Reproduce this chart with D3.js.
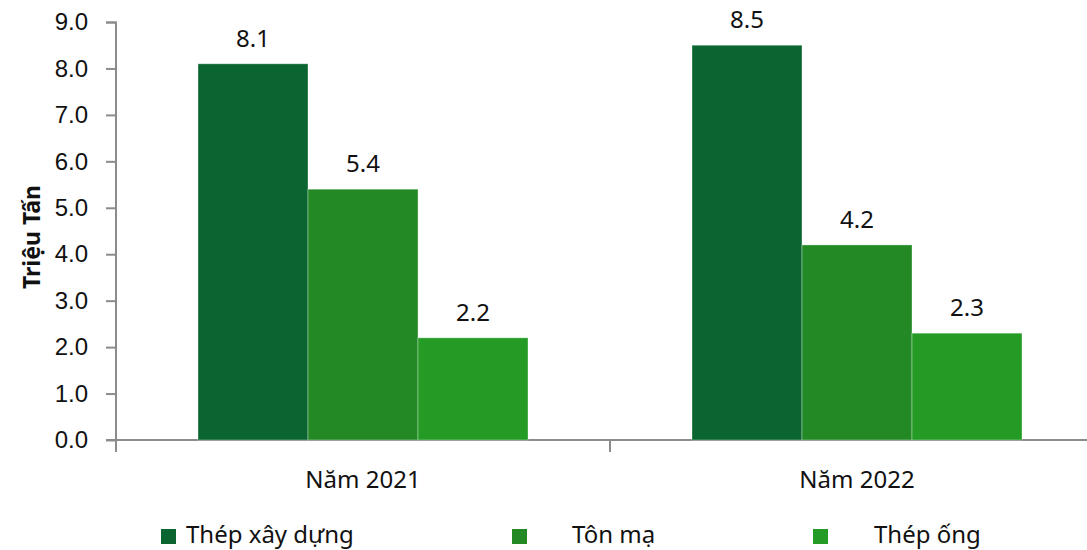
<!DOCTYPE html>
<html>
<head>
<meta charset="utf-8">
<script src="https://cdn.jsdelivr.net/npm/d3@7"></script>
<style>
body { margin: 0; background: #fff; overflow: hidden; }
svg { font-family: "Noto Sans", "Open Sans", sans-serif; display: block; }
</style>
</head>
<body>
<svg width="1087" height="550"></svg>
<script>
const years = ["Năm 2021", "Năm 2022"]
const series = ["Thép xây dựng", "Tôn mạ", "Thép ống"]
const thepXayDung = [8.1, 8.5]
const tonMa = [5.4, 4.2]
const thepOng = [2.2, 2.3]
const yTicks = [0, 1, 2, 3, 4, 5, 6, 7, 8, 9]
const colores = ["#0a6530", "#228925", "#249b24"]

const svg = d3.select("svg")
const values = [thepXayDung, tonMa, thepOng]
const data = years.map((y, i) => ({ year: y, vals: series.map((s, j) => ({ s, v: values[j][i] })) }))

const x0 = d3.scaleBand().domain(years).range([116, 1104])
const x1 = d3.scaleBand().domain(series).range([0, 330])
const yScale = d3.scaleLinear().domain([0, 9]).range([440, 22])
const color = d3.scaleOrdinal().domain(series).range(colores)

// y axis
const yAxis = d3.axisLeft(yScale).tickValues(yTicks).tickFormat(d3.format(".1f")).tickSize(10).tickPadding(18)
const yG = svg.append("g").attr("transform", "translate(116,0)").call(yAxis)
yG.selectAll("line, path").attr("stroke", "#8c8c8c").attr("stroke-width", 2)
yG.select(".domain").attr("d", "M-10,22.5H0V440")
yG.selectAll("text").style("font-size", "24px").attr("fill", "#111")

// x axis
const xG = svg.append("g").attr("transform", "translate(0,440)")
xG.append("line").attr("x1", 106).attr("x2", 1104).attr("stroke", "#8c8c8c").attr("stroke-width", 2)
xG.selectAll(".tk").data([116, 610, 1104]).enter().append("line")
	.attr("x1", d => d).attr("x2", d => d).attr("y1", 0).attr("y2", 12)
	.attr("stroke", "#8c8c8c").attr("stroke-width", 2)
xG.selectAll(".cat").data(years).enter().append("text")
	.attr("x", d => x0(d) + x0.bandwidth() / 2).attr("y", 48)
	.attr("text-anchor", "middle").style("font-size", "24px").attr("fill", "#111")
	.text(d => d)

// bars
const groups = svg.selectAll(".grp").data(data).enter().append("g")
	.attr("transform", d => `translate(${x0(d.year) + (x0.bandwidth() - 330) / 2},0)`)
groups.selectAll("rect").data(d => d.vals).enter().append("rect")
	.attr("x", d => x1(d.s))
	.attr("y", d => yScale(d.v))
	.attr("width", x1.bandwidth())
	.attr("height", d => 440 - yScale(d.v))
	.attr("fill", d => color(d.s))
	.attr("stroke", "rgba(255,255,255,0.35)")
	.attr("stroke-width", 1)
groups.selectAll(".lbl").data(d => d.vals).enter().append("text")
	.attr("x", d => x1(d.s) + x1.bandwidth() / 2)
	.attr("y", d => yScale(d.v) - 17)
	.attr("text-anchor", "middle").style("font-size", "24px").attr("fill", "#111")
	.text(d => d.v.toFixed(1))

// y title
svg.append("text")
	.attr("transform", "translate(40,237) rotate(-90)")
	.attr("text-anchor", "middle").style("font-size", "23px").style("font-weight", "bold")
	.attr("fill", "#111").text("Triệu Tấn")

// legend
const legX = [161, 512, 813]
const txtX = [186, 572, 874]
const leg = svg.selectAll(".leg").data(series).enter().append("g")
leg.append("rect").attr("x", (d, i) => legX[i]).attr("y", 529).attr("width", 15).attr("height", 15)
	.attr("fill", d => color(d))
leg.append("text").attr("x", (d, i) => txtX[i]).attr("y", 543)
	.style("font-size", "24px").attr("fill", "#111").text(d => d)
</script>
</body>
</html>
